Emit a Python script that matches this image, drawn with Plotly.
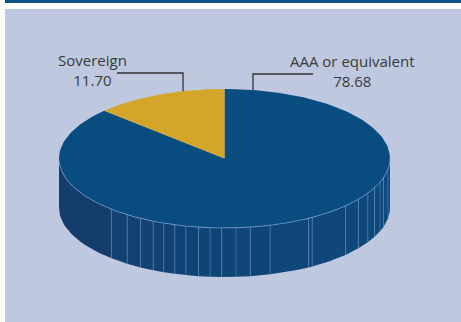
import numpy as np
import plotly.graph_objects as go

# ---- data ----
labels = ["AAA or equivalent", "Sovereign"]
values = [78.68, 11.70]
colors = ["#084c80", "#d3a62b"]

# ---- geometry / style ----
W, H = 461, 322
cx, cy = 224.5, 158.5
rx, ry = 165.5, 69.5
depth = 49
bg = "#bec9e0"

fig = go.Figure()

def ell(phi_deg, dy=0.0):
    p = np.radians(phi_deg)
    return cx + rx * np.cos(p), cy + ry * np.sin(p) + dy

# side face facets (front half, phi 0..180, screen y down)
edges = [0, 9, 16, 20, 25, 30, 36, 43, 58, 59.5, 74, 81, 86, 91, 95, 99, 103.5,
         107.5, 111.5, 115.5, 120.5, 126, 133, 180]
for i in range(len(edges) - 1):
    a0, a1 = edges[i], edges[i + 1]
    ph = np.linspace(a0, a1, 24)
    xt, yt = ell(ph)
    xb, yb = ell(ph[::-1], depth)
    t = ((a0 + a1) / 2) / 180.0
    c0 = np.array([0x0c, 0x4a, 0x7e])
    c1 = np.array([0x16, 0x3b, 0x6b])
    c = (c0 * (1 - t ** 1.5) + c1 * t ** 1.5).astype(int)
    col = "#%02x%02x%02x" % tuple(c)
    fig.add_trace(go.Scatter(x=np.concatenate([xt, xb, xt[:1]]),
                             y=np.concatenate([yt, yb, yt[:1]]),
                             mode="lines", fill="toself", fillcolor=col,
                             line=dict(width=0), hoverinfo="skip", showlegend=False))
    if i > 0:
        x0, y0 = ell(a0)
        x1, y1 = ell(a0, depth)
        fig.add_trace(go.Scatter(x=[x0, x1], y=[y0, y1], mode="lines",
                                 line=dict(color="rgba(120,160,205,0.5)", width=0.8),
                                 hoverinfo="skip", showlegend=False))

# top faces: slices start at 12 o'clock; Sovereign goes counter-clockwise
total = sum(values)
start = -90.0
spans = [v / total * 360 for v in values]
seg = [(start, start + spans[0]), (start + spans[0], start + 360)]
for (a0, a1), col in zip(seg, colors):
    ph = np.linspace(a0, a1, 200)
    xs, ys = ell(ph)
    fig.add_trace(go.Scatter(x=np.concatenate([[cx], xs, [cx]]),
                             y=np.concatenate([[cy], ys, [cy]]),
                             mode="lines", fill="toself", fillcolor=col,
                             line=dict(width=0), hoverinfo="skip", showlegend=False))

# rim highlight
ph = np.linspace(2, 178, 200)
xs, ys = ell(ph)
fig.add_trace(go.Scatter(x=xs, y=ys, mode="lines",
                         line=dict(color="rgba(130,170,215,0.8)", width=0.8),
                         hoverinfo="skip", showlegend=False))

# labels with leader lines
lab_pos = {"AAA or equivalent": (352, 253, 313, 74),
           "Sovereign": (92.5, 183, 117, 73)}
for lab, val in zip(labels, values):
    tx, lx, hx, ly = lab_pos[lab]
    ey = cy - ry * np.sqrt(1 - ((lx - cx) / rx) ** 2)
    fig.add_trace(go.Scatter(x=[hx, lx, lx], y=[ly, ly, ey], mode="lines",
                             line=dict(color="#333333", width=1.3),
                             hoverinfo="skip", showlegend=False))
    fig.add_annotation(x=tx, y=ly - 3.5, text=f"{lab}<br>{val:.2f}", showarrow=False,
                       align="center", yanchor="middle",
                       font=dict(family="Open Sans", size=15, color="#3a3a3a"))

fig.update_layout(
    width=W, height=H, margin=dict(l=0, r=0, t=0, b=0),
    paper_bgcolor="white", plot_bgcolor="rgba(0,0,0,0)",
    xaxis=dict(range=[0, W], visible=False, fixedrange=True),
    yaxis=dict(range=[H, 0], visible=False, fixedrange=True),
    shapes=[
        dict(type="rect", xref="paper", yref="paper", x0=5 / W, x1=1, y0=0, y1=1 - 9 / H,
             fillcolor=bg, line=dict(width=0), layer="below"),
        dict(type="rect", xref="paper", yref="paper", x0=5 / W, x1=1, y0=1 - 3 / H, y1=1,
             fillcolor="#0b5285", line=dict(width=0), layer="below"),
    ],
)

fig.write_html("out.html", config={"displayModeBar": False},
               post_script="document.body.style.margin='0';document.body.style.overflow='hidden';")
